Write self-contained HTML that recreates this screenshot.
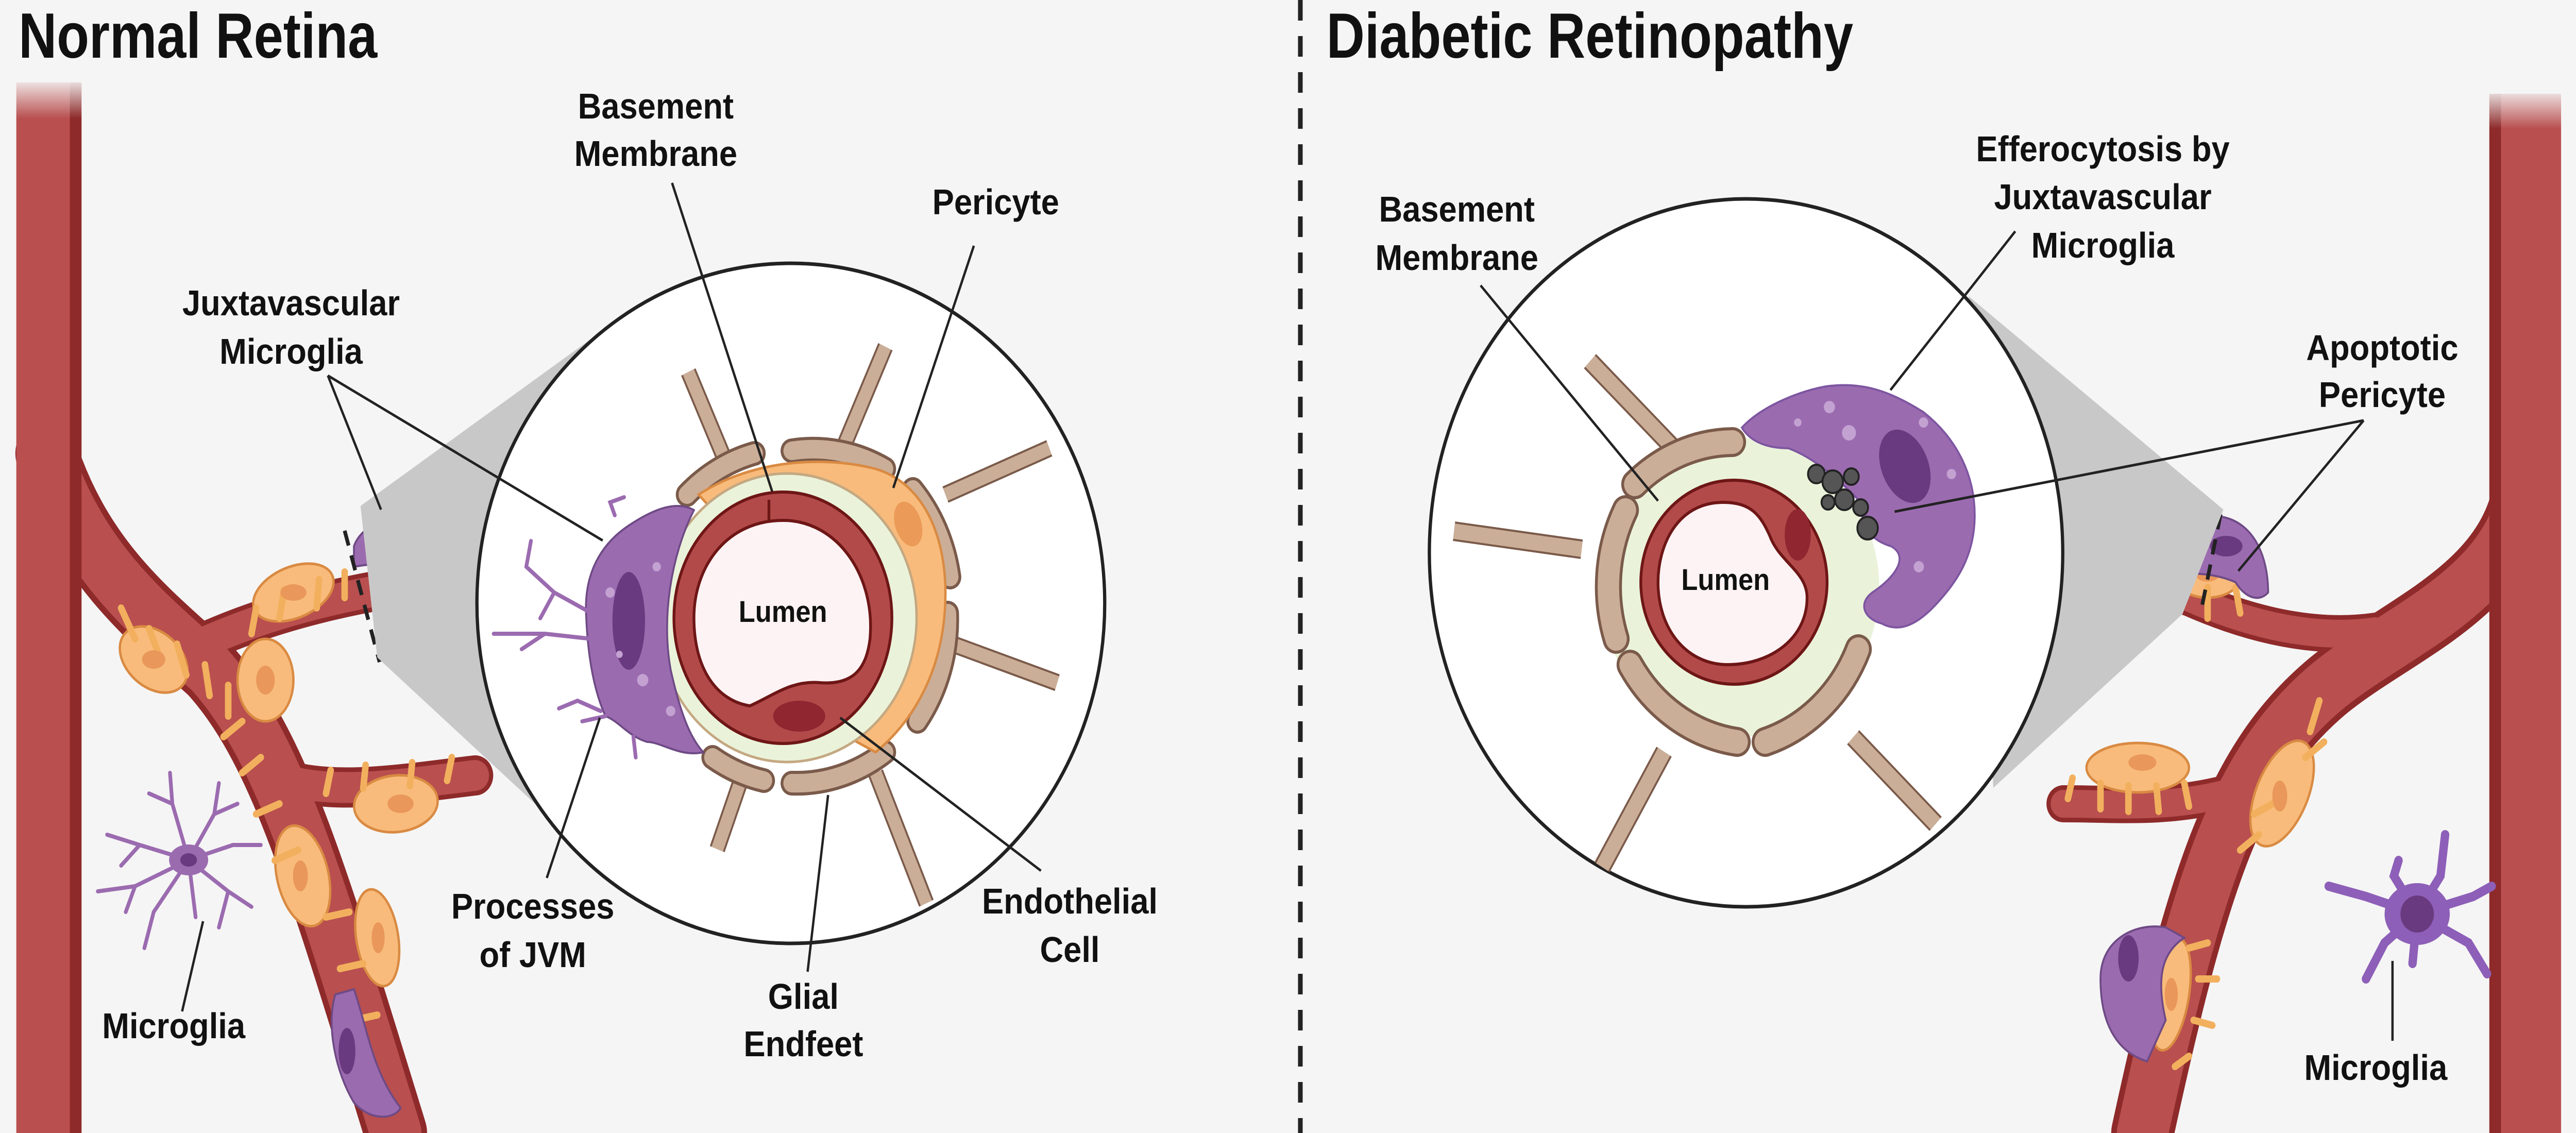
<!DOCTYPE html>
<html><head><meta charset="utf-8"><style>
html,body{margin:0;padding:0;background:#f5f5f5;overflow:hidden;width:100%;height:100%}
svg{display:block;width:100vw;height:100vh}
text{font-family:"Liberation Sans",sans-serif;font-weight:bold;fill:#111}
</style></head><body>
<svg viewBox="0 0 5531 2199" preserveAspectRatio="none" xmlns="http://www.w3.org/2000/svg">
<defs>
<linearGradient id="fadeTop" x1="0" y1="0" x2="0" y2="1"><stop offset="0" stop-color="#f5f5f5" stop-opacity="1"/><stop offset="1" stop-color="#f5f5f5" stop-opacity="0"/></linearGradient>
</defs>
<rect width="5531" height="2199" fill="#f5f5f5"/>
<line x1="2792" y1="0" x2="2792" y2="2199" stroke="#222" stroke-width="10" stroke-dasharray="40,30"/>

<text x="40" y="112" font-size="124" textLength="770" lengthAdjust="spacingAndGlyphs">Normal Retina</text>
<text x="2848" y="112" font-size="124" textLength="1131" lengthAdjust="spacingAndGlyphs">Diabetic Retinopathy</text>

<!-- LEFT VESSELS -->
<g fill="none" stroke-linecap="round">
<path d="M100 880 C180 1100,330 1200,450 1300 C600 1450,680 1700,850 2199" stroke="#8e2a2a" stroke-width="134"/>
<path d="M430 1250 C600 1180,800 1140,990 1125" stroke="#8e2a2a" stroke-width="78"/>
<path d="M640 1520 C750 1540,880 1520,1020 1505" stroke="#8e2a2a" stroke-width="78"/>
<path d="M100 880 C180 1100,330 1200,450 1300 C600 1450,680 1700,850 2199" stroke="#b94f4f" stroke-width="110"/>
<path d="M430 1250 C600 1180,800 1140,990 1125" stroke="#b94f4f" stroke-width="60"/>
<path d="M640 1520 C750 1540,880 1520,1020 1505" stroke="#b94f4f" stroke-width="60"/>
</g>
<rect x="35" y="160" width="140" height="2040" fill="#b94f4f"/>
<rect x="150" y="160" width="25" height="2040" fill="#8e2a2a"/>
<rect x="30" y="150" width="160" height="80" fill="url(#fadeTop)"/>

<g fill="#f8bb7b" stroke="#d98a42" stroke-width="5">
<ellipse cx="630" cy="1150" rx="90" ry="50" transform="rotate(-20 630 1150)"/>
<ellipse cx="330" cy="1280" rx="80" ry="55" transform="rotate(35 330 1280)"/>
<ellipse cx="570" cy="1320" rx="60" ry="80"/>
<ellipse cx="850" cy="1560" rx="90" ry="55" transform="rotate(-5 850 1560)"/>
<ellipse cx="650" cy="1700" rx="55" ry="100" transform="rotate(-15 650 1700)"/>
<ellipse cx="810" cy="1820" rx="45" ry="95" transform="rotate(-10 810 1820)"/>
</g>
<g fill="none" stroke="#f2b05e" stroke-width="14" stroke-linecap="round">
<path d="M260 1180 l30 60 M320 1220 l25 60 M380 1250 l20 60 M440 1290 l10 60 M490 1330 l0 60 M540 1230 l10 -50 M600 1200 l10 -55 M680 1180 l5 -55 M740 1160 l0 -50 M520 1400 l-40 30 M560 1470 l-40 30 M600 1560 l-50 20 M640 1650 l-50 20 M700 1780 l50 -10 M730 1880 l50 -10 M760 1980 l50 -10 M700 1540 l10 -45 M780 1530 l5 -45 M880 1525 l5 -45 M960 1515 l10 -45"/>
</g>
<g fill="#e9975a"><ellipse cx="630" cy="1150" rx="28" ry="16"/><ellipse cx="330" cy="1280" rx="25" ry="18"/><ellipse cx="570" cy="1320" rx="20" ry="28"/><ellipse cx="860" cy="1560" rx="28" ry="18"/><ellipse cx="645" cy="1700" rx="16" ry="30"/><ellipse cx="812" cy="1820" rx="14" ry="30"/></g>
<path d="M760 1060 C780 1010,860 995,900 1020 C950 1050,960 1090,940 1105 C880 1095,820 1090,760 1100 Z" fill="#9b6bb0" stroke="#6e4a85" stroke-width="4"/>
<ellipse cx="855" cy="1060" rx="35" ry="20" fill="#6a3a80"/>
<path d="M720 1930 C700 1990,720 2080,760 2140 C800 2180,850 2170,860 2150 C800 2080,790 2000,760 1920 Z" fill="#9b6bb0" stroke="#6e4a85" stroke-width="4"/>
<ellipse cx="745" cy="2040" rx="18" ry="45" fill="#6a3a80"/>
<line x1="740" y1="1030" x2="815" y2="1285" stroke="#222" stroke-width="8" stroke-dasharray="30,20"/>

<g stroke="#9b6bb0" stroke-width="8" fill="none" stroke-linecap="round">
<path d="M405 1669 L370 1560 L365 1500 M370 1560 L320 1540 M405 1669 L300 1640 L230 1620 M300 1640 L260 1680 M405 1669 L290 1720 L210 1730 M290 1720 L270 1770 M405 1669 L330 1770 L310 1840 M405 1669 L460 1580 L470 1520 M460 1580 L510 1560 M405 1669 L500 1640 L560 1640 M405 1669 L490 1730 L540 1760 M490 1730 L470 1800 M405 1669 L420 1780"/>
</g>
<ellipse cx="405" cy="1669" rx="42" ry="30" fill="#9b6bb0"/><ellipse cx="405" cy="1669" rx="18" ry="13" fill="#6a3a80"/>

<polygon points="774,982 1267,659 1162,1571 810,1276" fill="#c9c8c9"/>
<ellipse cx="1698" cy="1171" rx="674" ry="660" fill="#fff" stroke="#222" stroke-width="7"/>

<g fill="none">
<path d="M1478 722 L1560 900 M1901 673 L1810 870 M2253 870 L2030 960 M2270 1325 L2030 1245 M1989 1753 L1880 1500 M1540 1648 L1600 1490" stroke="#7a5a4a" stroke-width="34"/>
<path d="M1478 722 L1560 900 M1901 673 L1810 870 M2253 870 L2030 960 M2270 1325 L2030 1245 M1989 1753 L1880 1500 M1540 1648 L1600 1490" stroke="#cbae98" stroke-width="26"/>
</g>
<g fill="none" stroke-linecap="round">
<g stroke="#7a5a4a" stroke-width="48">
<path d="M1475 960 A330 330 0 0 1 1620 880"/><path d="M1700 875 A330 330 0 0 1 1900 910"/><path d="M1960 950 A330 330 0 0 1 2040 1120"/><path d="M2035 1190 A330 330 0 0 1 1970 1400"/><path d="M1900 1460 A330 330 0 0 1 1700 1520"/><path d="M1640 1515 A330 330 0 0 1 1530 1470"/>
</g>
<g stroke="#cbae98" stroke-width="36">
<path d="M1475 960 A330 330 0 0 1 1620 880"/><path d="M1700 875 A330 330 0 0 1 1900 910"/><path d="M1960 950 A330 330 0 0 1 2040 1120"/><path d="M2035 1190 A330 330 0 0 1 1970 1400"/><path d="M1900 1460 A330 330 0 0 1 1700 1520"/><path d="M1640 1515 A330 330 0 0 1 1530 1470"/>
</g>
</g>
<path d="M1500 960 C1600 900,1750 880,1880 910 C1990 940,2030 1050,2030 1150 C2030 1300,1960 1400,1880 1460 L1800 1420 C1900 1300,1940 1150,1880 1050 C1800 960,1650 960,1540 1000 Z" fill="#f8bb7b" stroke="#d98a42" stroke-width="5"/>
<ellipse cx="1950" cy="1017" rx="28" ry="45" fill="#eb9a58" transform="rotate(-20 1950 1017)"/>
<ellipse cx="1690" cy="1199" rx="278" ry="280" fill="#eaf3da" stroke="#c4a882" stroke-width="5"/>
<ellipse cx="1681" cy="1199" rx="234" ry="244" fill="#b34a4a" stroke="#6e1616" stroke-width="6"/>
<path d="M1681 1010 C1560 1010,1490 1100,1490 1199 C1490 1300,1540 1360,1610 1370 C1660 1350,1700 1320,1760 1325 C1830 1330,1860 1300,1868 1240 C1880 1120,1800 1010,1681 1010 Z" fill="#fdf3f4" stroke="#6e1616" stroke-width="6"/>
<line x1="1651" y1="970" x2="1651" y2="1010" stroke="#6e1616" stroke-width="6"/>
<ellipse cx="1716" cy="1390" rx="56" ry="30" fill="#8f2630"/>
<text x="1681" y="1207" font-size="58" text-anchor="middle">Lumen</text>
<path d="M1350 1020 C1400 990,1450 970,1490 990 C1440 1080,1420 1200,1440 1300 C1460 1380,1480 1430,1510 1460 C1460 1470,1420 1440,1390 1440 C1350 1430,1330 1400,1300 1390 C1270 1330,1260 1250,1258 1180 C1258 1100,1300 1050,1350 1020 Z" fill="#9b6bb0" stroke="#6e4a85" stroke-width="4"/>
<ellipse cx="1350" cy="1205" rx="35" ry="95" fill="#6a3a80"/>
<g fill="#c3a2d2"><circle cx="1310" cy="1150" r="10"/><circle cx="1380" cy="1320" r="12"/><circle cx="1410" cy="1100" r="9"/><circle cx="1330" cy="1270" r="7"/><circle cx="1440" cy="1380" r="10"/></g>
<g stroke="#9b6bb0" stroke-width="8" fill="none" stroke-linecap="round">
<path d="M1270 1190 L1190 1150 L1130 1100 M1190 1150 L1160 1200 M1130 1100 L1140 1050 M1270 1240 L1170 1230 L1120 1260 M1170 1230 L1060 1230 M1290 1380 L1240 1360 L1200 1375 M1300 1390 L1250 1400 M1320 1000 L1310 975 L1340 965 M1360 1430 L1365 1470"/>
</g>

<g font-size="70" text-anchor="middle">
<text x="1408" y="230">Basement</text><text x="1408" y="322">Membrane</text>
<text x="2138" y="416">Pericyte</text>
<text x="625" y="612">Juxtavascular</text><text x="625" y="706">Microglia</text>
<text x="1144" y="1783">Processes</text><text x="1144" y="1877">of JVM</text>
<text x="1725" y="1958">Glial</text><text x="1725" y="2050">Endfeet</text>
<text x="2297" y="1773">Endothelial</text><text x="2297" y="1867">Cell</text>
<text x="373" y="2015">Microglia</text>
</g>
<g stroke="#222" stroke-width="5">
<line x1="1443" y1="355" x2="1658" y2="954"/>
<line x1="2091" y1="477" x2="1918" y2="947"/>
<line x1="704" y1="729" x2="818" y2="989"/>
<line x1="704" y1="729" x2="1294" y2="1049"/>
<line x1="1174" y1="1704" x2="1288" y2="1393"/>
<line x1="1734" y1="1886" x2="1778" y2="1543"/>
<line x1="2235" y1="1690" x2="1804" y2="1393"/>
<line x1="391" y1="1963" x2="436" y2="1788"/>
</g>

<!-- RIGHT VESSELS -->
<g fill="none" stroke-linecap="round">
<path d="M5420 950 C5380 1150,5150 1220,5000 1330 C4800 1480,4720 1700,4600 2199" stroke="#8e2a2a" stroke-width="134"/>
<path d="M5100 1225 C4950 1245,4800 1200,4700 1160 C4600 1130,4500 1125,4430 1130" stroke="#8e2a2a" stroke-width="72"/>
<path d="M4780 1540 C4650 1570,4550 1560,4430 1560" stroke="#8e2a2a" stroke-width="72"/>
<path d="M5420 950 C5380 1150,5150 1220,5000 1330 C4800 1480,4720 1700,4600 2199" stroke="#b94f4f" stroke-width="110"/>
<path d="M5100 1225 C4950 1245,4800 1200,4700 1160 C4600 1130,4500 1125,4430 1130" stroke="#b94f4f" stroke-width="54"/>
<path d="M4780 1540 C4650 1570,4550 1560,4430 1560" stroke="#b94f4f" stroke-width="54"/>
</g>
<rect x="5345" y="182" width="154" height="2020" fill="#b94f4f"/>
<rect x="5345" y="182" width="25" height="2020" fill="#8e2a2a"/>
<rect x="5340" y="170" width="170" height="80" fill="url(#fadeTop)"/>
<g fill="#f8bb7b" stroke="#d98a42" stroke-width="5">
<ellipse cx="4590" cy="1490" rx="110" ry="48"/>
<ellipse cx="4900" cy="1540" rx="55" ry="110" transform="rotate(25 4900 1540)"/>
<ellipse cx="4660" cy="1930" rx="40" ry="110" transform="rotate(10 4660 1930)"/>
<ellipse cx="4740" cy="1120" rx="70" ry="40"/>
</g>
<g fill="none" stroke="#f2b05e" stroke-width="14" stroke-linecap="round">
<path d="M4450 1510 l-10 40 M4510 1520 l0 50 M4570 1525 l0 50 M4630 1525 l5 50 M4690 1520 l10 45 M4850 1620 l-40 30 M4880 1560 l-40 20 M4950 1470 l40 -30 M4960 1420 l20 -60 M4700 1840 l40 -10 M4720 1900 l40 0 M4710 1980 l40 10 M4700 2050 l-30 20 M4680 1130 l-10 60 M4740 1140 l0 60 M4800 1140 l10 50"/>
</g>
<g fill="#e9975a"><ellipse cx="4600" cy="1480" rx="30" ry="16"/><ellipse cx="4895" cy="1545" rx="16" ry="30"/><ellipse cx="4662" cy="1930" rx="14" ry="32"/><ellipse cx="4740" cy="1115" rx="25" ry="14"/></g>
<path d="M4640 1080 C4660 1020,4720 990,4780 1005 C4840 1020,4870 1080,4870 1150 C4850 1170,4820 1160,4800 1130 C4750 1110,4690 1110,4650 1120 Z" fill="#9b6bb0" stroke="#6e4a85" stroke-width="4"/>
<ellipse cx="4780" cy="1060" rx="35" ry="20" fill="#6a3a80"/>
<path d="M4650 1800 C4590 1790,4510 1820,4510 1900 C4510 1980,4540 2040,4610 2060 L4650 1980 C4630 1900,4640 1850,4690 1820 Z" fill="#9b6bb0" stroke="#6e4a85" stroke-width="4"/>
<ellipse cx="4570" cy="1860" rx="22" ry="45" fill="#6a3a80"/>
<line x1="4768" y1="998" x2="4725" y2="1190" stroke="#222" stroke-width="8" stroke-dasharray="30,20"/>
<g stroke="#8d5fb8" stroke-width="18" fill="none" stroke-linecap="round">
<path d="M5190 1774 L5240 1700 L5250 1620 M5190 1774 L5140 1700 L5150 1670 M5190 1774 L5080 1740 L5000 1720 M5190 1774 L5120 1830 L5080 1900 M5190 1774 L5300 1830 L5340 1890 M5190 1774 L5310 1740 L5350 1720 M5190 1774 L5180 1870"/>
</g>
<ellipse cx="5190" cy="1774" rx="70" ry="60" fill="#8d5fb8"/><circle cx="5190" cy="1774" r="36" fill="#6a3a80"/>

<polygon points="4774,989 4227,575 4280,1529 4686,1192" fill="#c9c8c9"/>
<ellipse cx="3749" cy="1073" rx="680" ry="687" fill="#fff" stroke="#222" stroke-width="7"/>
<g fill="none">
<path d="M3414 701 L3608 884 M3122 1031 L3396 1066 M3440 1683 L3573 1459 M4156 1599 L3979 1431" stroke="#7a5a4a" stroke-width="38"/>
<path d="M3414 701 L3608 884 M3122 1031 L3396 1066 M3440 1683 L3573 1459 M4156 1599 L3979 1431" stroke="#cbae98" stroke-width="30"/>
</g>
<ellipse cx="3735" cy="1140" rx="300" ry="290" fill="#eaf3da"/>
<g fill="none" stroke-linecap="round">
<g stroke="#7a5a4a" stroke-width="58"><path d="M3510 940 A320 320 0 0 1 3720 858"/><path d="M3490 990 A320 320 0 0 0 3470 1240"/><path d="M3500 1290 A320 320 0 0 0 3730 1440"/><path d="M3790 1440 A320 320 0 0 0 3990 1260"/></g>
<g stroke="#cbae98" stroke-width="46"><path d="M3510 940 A320 320 0 0 1 3720 858"/><path d="M3490 990 A320 320 0 0 0 3470 1240"/><path d="M3500 1290 A320 320 0 0 0 3730 1440"/><path d="M3790 1440 A320 320 0 0 0 3990 1260"/></g>
</g>
<path d="M3740 830 C3780 790,3860 760,3920 750 C4000 740,4060 760,4130 800 C4200 850,4240 920,4240 1000 C4240 1080,4200 1130,4160 1170 C4120 1210,4080 1230,4040 1210 C4000 1200,3990 1170,4020 1150 C4070 1120,4100 1080,4060 1060 C4020 1050,3990 1020,4000 980 C3960 940,3900 890,3840 870 C3800 870,3760 860,3740 830 Z" fill="#9b6bb0" stroke="#7d55a0" stroke-width="4"/>
<ellipse cx="4090" cy="905" rx="50" ry="75" fill="#6a3a80" transform="rotate(-25 4090 905)"/>
<g fill="#c3a2d2"><circle cx="3928" cy="790" r="12"/><circle cx="3970" cy="840" r="15"/><circle cx="4130" cy="820" r="10"/><circle cx="4190" cy="920" r="10"/><circle cx="4120" cy="1100" r="11"/><circle cx="3860" cy="820" r="8"/></g>
<g fill="#555" stroke="#222" stroke-width="4">
<circle cx="3900" cy="920" r="18"/><circle cx="3935" cy="935" r="22"/><circle cx="3975" cy="925" r="16"/><circle cx="3960" cy="970" r="20"/><circle cx="3995" cy="985" r="16"/><circle cx="4010" cy="1025" r="22"/><circle cx="3925" cy="975" r="14"/>
</g>
<ellipse cx="3723" cy="1130" rx="200" ry="198" fill="#b34a4a" stroke="#6e1616" stroke-width="6"/>
<path d="M3700 975 C3600 975,3560 1060,3560 1130 C3560 1220,3620 1290,3710 1290 C3800 1290,3880 1240,3880 1160 C3880 1110,3820 1090,3800 1040 C3780 1000,3760 975,3700 975 Z" fill="#fdf3f4" stroke="#6e1616" stroke-width="6"/>
<ellipse cx="3860" cy="1038" rx="28" ry="50" fill="#8f2630"/>
<text x="3705" y="1145" font-size="58" text-anchor="middle">Lumen</text>

<g font-size="70" text-anchor="middle">
<text x="3128" y="430">Basement</text><text x="3128" y="524">Membrane</text>
<text x="4515" y="313">Efferocytosis by</text><text x="4515" y="406">Juxtavascular</text><text x="4515" y="500">Microglia</text>
<text x="5115" y="699">Apoptotic</text><text x="5115" y="790">Pericyte</text>
<text x="5101" y="2096">Microglia</text>
</g>
<g stroke="#222" stroke-width="5">
<line x1="3179" y1="554" x2="3560" y2="972"/>
<line x1="4327" y1="449" x2="4059" y2="757"/>
<line x1="5075" y1="816" x2="4068" y2="993"/>
<line x1="5075" y1="816" x2="4806" y2="1108"/>
<line x1="5137" y1="2020" x2="5137" y2="1865"/>
</g>
</svg>
</body></html>
